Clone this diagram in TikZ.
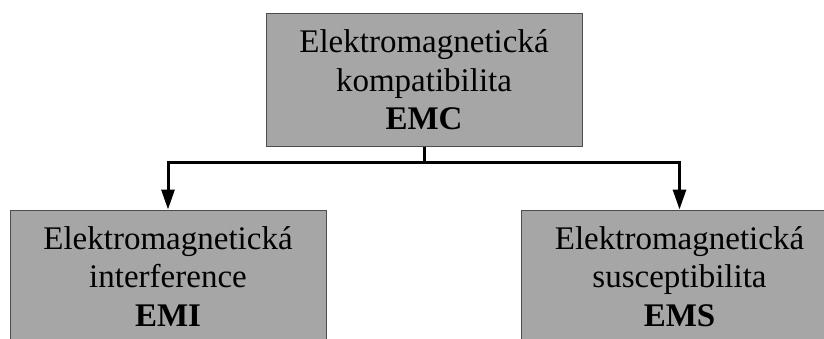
\documentclass[tikz,border=0pt]{standalone}
\usepackage{fontspec}
\setmainfont{Liberation Serif}
\usetikzlibrary{arrows.meta}

\definecolor{boxfill}{HTML}{A6A6A6}
\definecolor{boxline}{HTML}{4D4D4D}

\tikzset{
  termbox/.style={draw=boxline, line width=1pt, fill=boxfill, rectangle,
    minimum width=316pt, minimum height=133pt, inner sep=0pt,
    align=center, font=\fontsize{33}{38.5}\selectfont},
  conn/.style={line width=3pt, line join=miter},
  connarrow/.style={conn, -{Triangle[width=13pt,length=20pt]}, shorten >=0pt}
}

\begin{document}
\begin{tikzpicture}[x=1pt,y=1pt]
  \useasboundingbox (0,0) rectangle (824,-338);
  \clip (0,0) rectangle (824,-338);

  % parent concept
  \node[termbox] (emc) at (424,-80) {Elektromagnetická\\kompatibilita\\\textbf{EMC}};

  % the two branches
  \node[termbox] (emi) at (168,-276.5) {Elektromagnetická\\interference\\\textbf{EMI}};
  \node[termbox] (ems) at (679.5,-276.5) {Elektromagnetická\\susceptibilita\\\textbf{EMS}};

  % tree connectors
  \draw[conn] (emc.south) -- ++(0,-15) coordinate (split);
  \draw[connarrow] (split) -| (emi.north);
  \draw[connarrow] (split) -| (ems.north);
\end{tikzpicture}
\end{document}
